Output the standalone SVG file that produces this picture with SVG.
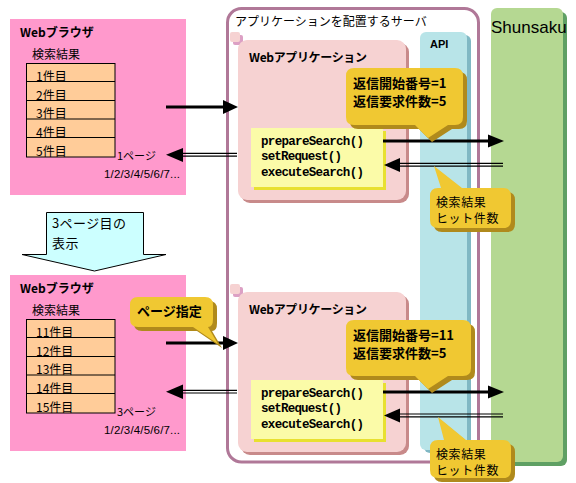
<svg xmlns="http://www.w3.org/2000/svg" width="576" height="483" viewBox="0 0 576 483">
<style>
.jp{font-family:"Noto Sans CJK JP","Noto Sans",sans-serif;fill:#000}
.b{font-weight:bold}
.mono{font-family:"Liberation Mono",monospace;font-weight:bold;font-size:12.5px}
.callout{fill:#f0c832}
.cshadow{fill:#b08a1c}
.thick{stroke:#000;stroke-width:3;fill:none}
.thin{stroke:#000;stroke-width:1.2;fill:none}
</style>
<rect width="576" height="483" fill="#fff"/>

<!-- Server box -->
<g id="server">
<rect x="227.5" y="8.5" width="251" height="453.5" rx="14" fill="none" stroke="#b07898" stroke-width="3"/>
<text class="jp" x="235" y="26" font-size="12">アプリケーションを配置するサーバ</text>
</g>

<!-- API column -->
<g id="api">
<rect x="424" y="35" width="47" height="418" rx="6" fill="#80b8c4"/>
<rect x="420" y="32" width="47" height="418" rx="6" fill="#b8e4e8"/>
<text x="430" y="48" font-family="Liberation Sans, sans-serif" font-weight="bold" font-size="11">API</text>
</g>

<!-- Shunsaku -->
<g id="shunsaku">
<rect x="495" y="12" width="72" height="454" rx="6" fill="#5fa064"/>
<rect x="491" y="8" width="72" height="454" rx="6" fill="#b5d892"/>
<text x="491" y="33" font-family="Liberation Sans, sans-serif" font-size="17">Shunsaku</text>
</g>

<!-- Top browser -->
<g id="browser-top">
<rect x="10" y="19" width="176" height="176" fill="#ff99cc"/>
<text class="jp b" x="20" y="37" font-size="12">Webブラウザ</text>
<text class="jp" x="32" y="59" font-size="12">検索結果</text>
<rect x="26.5" y="63.5" width="88.5" height="93.5" fill="#ffcc99" stroke="#000"/>
<path d="M26.5,81.5H115M26.5,100.5H115M26.5,119H115M26.5,137.5H115" stroke="#000" fill="none"/>
<g class="jp" font-size="12">
<text x="36" y="80.5">1件目</text>
<text x="36" y="99.5">2件目</text>
<text x="36" y="118">3件目</text>
<text x="36" y="136.5">4件目</text>
<text x="36" y="155.5">5件目</text>
</g>
<text class="jp" x="117" y="160" font-size="11">1ページ</text>
<text x="104" y="178" font-family="Liberation Sans, sans-serif" font-size="11.5" textLength="76">1/2/3/4/5/6/7...</text>
</g>

<!-- Down arrow -->
<g id="page3">
<polygon points="46.5,212.5 143.5,212.5 143.5,254.5 166,254.5 94.5,271 22,254.5 46.5,254.5" fill="#ccffff" stroke="#000"/>
<text class="jp" x="52" y="228" font-size="13" letter-spacing="0.4">3ページ目の</text>
<text class="jp" x="52" y="248" font-size="13" letter-spacing="0.5">表示</text>
</g>

<!-- Bottom browser -->
<g id="browser-bottom">
<rect x="10" y="275" width="176" height="176" fill="#ff99cc"/>
<text class="jp b" x="20" y="293" font-size="12">Webブラウザ</text>
<text class="jp" x="32" y="315" font-size="12">検索結果</text>
<rect x="26.5" y="319.5" width="88.5" height="93.5" fill="#ffcc99" stroke="#000"/>
<path d="M26.5,337.5H115M26.5,356.5H115M26.5,375H115M26.5,393.5H115" stroke="#000" fill="none"/>
<g class="jp" font-size="12">
<text x="36" y="336.5">11件目</text>
<text x="36" y="355.5">12件目</text>
<text x="36" y="374">13件目</text>
<text x="36" y="392.5">14件目</text>
<text x="36" y="411.5">15件目</text>
</g>
<text class="jp" x="117" y="416" font-size="11">3ページ</text>
<text x="104" y="434" font-family="Liberation Sans, sans-serif" font-size="11.5" textLength="76">1/2/3/4/5/6/7...</text>
</g>

<!-- Web applications -->
<g id="webapp-top">
<rect x="233" y="35" width="10" height="10" rx="2" fill="#dca0c4"/>
<rect x="230" y="32" width="10" height="10" rx="2" fill="#f6d2d2"/>
<rect x="241" y="43" width="168" height="160" rx="9" fill="#c88a8a"/>
<rect x="238" y="40" width="168" height="160" rx="9" fill="#f6d2d2"/>
<text class="jp b" x="249" y="62" font-size="12" textLength="118">Webアプリケーション</text>
</g>
<g id="webapp-bottom">
<rect x="233" y="287" width="10" height="10" rx="2" fill="#dca0c4"/>
<rect x="230" y="284" width="10" height="10" rx="2" fill="#f6d2d2"/>
<rect x="241" y="295" width="168" height="160" rx="9" fill="#c88a8a"/>
<rect x="238" y="292" width="168" height="160" rx="9" fill="#f6d2d2"/>
<text class="jp b" x="249" y="314" font-size="12" textLength="118">Webアプリケーション</text>
</g>

<!-- Method boxes -->
<g id="methods-top">
<rect x="254" y="131" width="132" height="59" fill="#e8e030"/>
<rect x="251" y="128" width="132" height="59" fill="#fbfba8"/>
<text class="mono" x="261" y="145" textLength="103">prepareSearch()</text>
<text class="mono" x="261" y="160" textLength="81">setRequest()</text>
<text class="mono" x="261" y="176" textLength="103">executeSearch()</text>
</g>
<g id="methods-bottom">
<rect x="254" y="383" width="132" height="59" fill="#e8e030"/>
<rect x="251" y="380" width="132" height="59" fill="#fbfba8"/>
<text class="mono" x="261" y="397" textLength="103">prepareSearch()</text>
<text class="mono" x="261" y="412" textLength="81">setRequest()</text>
<text class="mono" x="261" y="428" textLength="103">executeSearch()</text>
</g>

<!-- Connectors -->
<g id="connectors">
<line class="thick" x1="166" y1="107" x2="225" y2="107"/>
<polygon points="223,100 238,107 223,114"/>
<line class="thin" x1="181" y1="153.3" x2="237" y2="153.3"/>
<line class="thin" x1="181" y1="156.2" x2="237" y2="156.2"/>
<polygon points="166,154.8 183,148 183,162"/>

<line class="thick" x1="383" y1="141" x2="490" y2="141"/>
<polygon points="488,134.5 504,141 488,147.5"/>
<line class="thin" x1="398" y1="163.4" x2="503" y2="163.4"/>
<line class="thin" x1="398" y1="166.2" x2="503" y2="166.2"/>
<polygon points="384,165 400,158 400,172"/>

<line class="thick" x1="166" y1="343" x2="225" y2="343"/>
<polygon points="223,336 238,343 223,350"/>
<line class="thin" x1="181" y1="390.3" x2="237" y2="390.3"/>
<line class="thin" x1="181" y1="393" x2="237" y2="393"/>
<polygon points="166,391.7 183,384.5 183,399"/>

<line class="thick" x1="383" y1="392" x2="490" y2="392"/>
<polygon points="488,385.5 504,392 488,398.5"/>
<line class="thin" x1="398" y1="414" x2="503" y2="414"/>
<line class="thin" x1="398" y1="416.8" x2="503" y2="416.8"/>
<polygon points="384,415.5 400,408.5 400,422.5"/>
</g>

<!-- Callouts -->
<g id="callout-req-top">
<path class="cshadow" transform="translate(4,4)" d="M354,68H455Q463,68 463,76V117Q463,125 455,125H448L428,138L415,125H354Q346,125 346,117V76Q346,68 354,68Z"/>
<path class="callout" d="M354,68H455Q463,68 463,76V117Q463,125 455,125H448L428,138L415,125H354Q346,125 346,117V76Q346,68 354,68Z"/>
<text class="jp b" x="353" y="88" font-size="13">返信開始番号=1</text>
<text class="jp b" x="353" y="106" font-size="13">返信要求件数=5</text>
</g>
<g id="callout-req-bottom">
<path class="cshadow" transform="translate(4,4)" d="M354,320H463Q471,320 471,328V368Q471,376 463,376H448L428,389L415,376H354Q346,376 346,368V328Q346,320 354,320Z"/>
<path class="callout" d="M354,320H463Q471,320 471,328V368Q471,376 463,376H448L428,389L415,376H354Q346,376 346,368V328Q346,320 354,320Z"/>
<text class="jp b" x="353" y="340" font-size="13">返信開始番号=11</text>
<text class="jp b" x="353" y="358" font-size="13">返信要求件数=5</text>
</g>
<g id="callout-res-top">
<path class="cshadow" transform="translate(4,4)" d="M438,188H441L434,166L462,188H503Q511,188 511,196V220Q511,228 503,228H438Q430,228 430,220V196Q430,188 438,188Z"/>
<path class="callout" d="M438,188H441L434,166L462,188H503Q511,188 511,196V220Q511,228 503,228H438Q430,228 430,220V196Q430,188 438,188Z"/>
<text class="jp" x="436" y="206.5" font-size="12" letter-spacing="0.6">検索結果</text>
<text class="jp" x="436" y="222.5" font-size="12" letter-spacing="0.6">ヒット件数</text>
</g>
<g id="callout-res-bottom">
<path class="cshadow" transform="translate(4,4)" d="M438,440H444L438,417L466,440H503Q511,440 511,448V470Q511,478 503,478H438Q430,478 430,470V448Q430,440 438,440Z"/>
<path class="callout" d="M438,440H444L438,417L466,440H503Q511,440 511,448V470Q511,478 503,478H438Q430,478 430,470V448Q430,440 438,440Z"/>
<text class="jp" x="436" y="458.5" font-size="12" letter-spacing="0.6">検索結果</text>
<text class="jp" x="436" y="474.5" font-size="12" letter-spacing="0.6">ヒット件数</text>
</g>
<g id="callout-page">
<path class="cshadow" transform="translate(4,4)" d="M138,297H205Q213,297 213,305V319Q213,327 208,327L218,344L193,327H138Q130,327 130,319V305Q130,297 138,297Z"/>
<path class="callout" d="M138,297H205Q213,297 213,305V319Q213,327 208,327L218,344L193,327H138Q130,327 130,319V305Q130,297 138,297Z"/>
<text class="jp b" x="137" y="316" font-size="13">ページ指定</text>
</g>
</svg>
